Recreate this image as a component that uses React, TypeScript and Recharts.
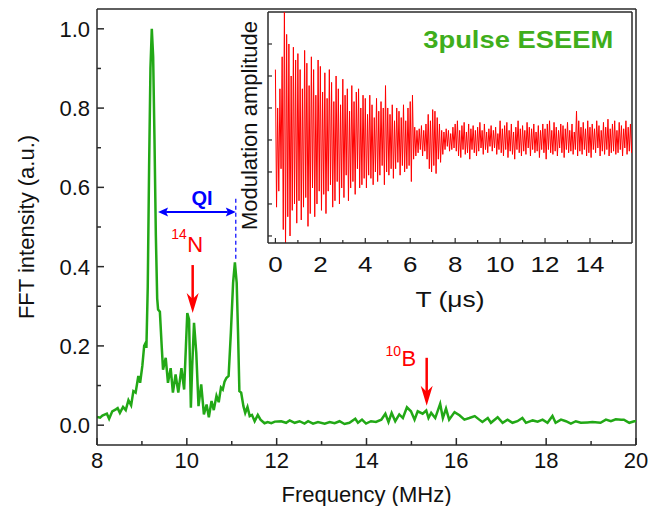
import React from 'react';
import { LineChart, Line, XAxis, YAxis, ReferenceLine } from 'recharts';

// ---------- main spectrum (FFT) ----------
const freqMHz = [
  8.0, 8.07, 8.12, 8.22, 8.27, 8.34, 8.42, 8.46, 8.51, 8.58,
  8.64, 8.7, 8.76, 8.81, 8.86, 8.92, 8.96, 9.01, 9.05, 9.08,
  9.1, 9.13, 9.16, 9.19, 9.22, 9.25, 9.28, 9.31, 9.34, 9.36,
  9.4, 9.44, 9.47, 9.53, 9.58, 9.64, 9.69, 9.75, 9.81, 9.88,
  9.94, 9.98, 10.01, 10.05, 10.07, 10.09, 10.12, 10.16, 10.21, 10.26,
  10.32, 10.38, 10.44, 10.49, 10.55, 10.6, 10.66, 10.71, 10.76, 10.8,
  10.84, 10.88, 10.93, 10.98, 11.03, 11.07, 11.11, 11.14, 11.17, 11.21,
  11.26, 11.3, 11.35, 11.4, 11.45, 11.51, 11.58, 11.64, 11.73, 11.8,
  11.88, 11.96, 12.1, 12.21, 12.29, 12.4, 12.51, 12.62, 12.7, 12.81,
  12.92, 13.07, 13.18, 13.29, 13.4, 13.51, 13.62, 13.75, 13.81, 13.9,
  13.99, 14.1, 14.21, 14.33, 14.42, 14.49, 14.56, 14.64, 14.73, 14.81,
  14.9, 14.99, 15.07, 15.14, 15.25, 15.33, 15.38, 15.44, 15.53, 15.64,
  15.7, 15.77, 15.84, 15.96, 16.07, 16.18, 16.29, 16.41, 16.51, 16.58,
  16.7, 16.77, 16.92, 17.03, 17.14, 17.25, 17.36, 17.47, 17.55, 17.7,
  17.81, 17.92, 18.03, 18.14, 18.21, 18.33, 18.44, 18.55, 18.66, 18.77,
  18.92, 19.03, 19.21, 19.33, 19.44, 19.55, 19.67, 19.73, 19.85, 19.96,
  20.0,
];
const fftIntensity = [
  0.021, 0.019, 0.024, 0.029, 0.016, 0.035, 0.04, 0.043, 0.031, 0.046,
  0.038, 0.063, 0.05, 0.086, 0.082, 0.124, 0.107, 0.15, 0.2, 0.207,
  0.195, 0.35, 0.65, 0.9, 1.0, 0.93, 0.72, 0.48, 0.32, 0.292,
  0.286, 0.2, 0.14, 0.17, 0.107, 0.144, 0.082, 0.128, 0.082, 0.144,
  0.09, 0.2, 0.283, 0.266, 0.15, 0.044, 0.15, 0.258, 0.183, 0.048,
  0.103, 0.027, 0.052, 0.02, 0.061, 0.038, 0.074, 0.058, 0.095, 0.09,
  0.11, 0.119, 0.124, 0.233, 0.359, 0.411, 0.359, 0.233, 0.086, 0.082,
  0.048, 0.031, 0.046, 0.023, 0.026, 0.01, 0.026, 0.014, 0.005, 0.008,
  0.005, 0.009, 0.01, 0.006, 0.012, 0.006, 0.01, 0.004, 0.01, 0.004,
  0.008, 0.004, 0.008, 0.005, 0.01, 0.003, 0.006, 0.016, 0.006, 0.014,
  0.004, 0.01, 0.008, 0.014, 0.029, 0.008, 0.031, 0.01, 0.027, 0.018,
  0.045, 0.035, 0.014, 0.035, 0.029, 0.037, 0.018, 0.031, 0.018, 0.054,
  0.018, 0.042, 0.014, 0.033, 0.025, 0.014, 0.018, 0.023, 0.014, 0.008,
  0.018, 0.006, 0.02, 0.006, 0.014, 0.006, 0.01, 0.018, 0.006, 0.012,
  0.009, 0.014, 0.006, 0.023, 0.006, 0.014, 0.01, 0.004, 0.01, 0.006,
  0.007, 0.008, 0.006, 0.014, 0.01, 0.015, 0.014, 0.014, 0.006, 0.01,
  0.01,
];
const freqTicks = [8, 9, 10, 11, 12, 13, 14, 15, 16, 17, 18, 19, 20];
const intensityTicks = [0, 0.1, 0.2, 0.3, 0.4, 0.5, 0.6, 0.7, 0.8, 0.9, 1.0];

// ---------- inset time trace (3-pulse ESEEM) ----------
const timeStepUs = 0.05;
const modulation = [
  2.2, -2.1, 1.0, -1.6, 1.6, -0.9, 2.6, -2.8, 4.3, -3.4, 3.3, -2.4, 3.0, -3.0, 2.0, -2.2, 2.9, -2.0, 2.5, -2.6,
  2.7, -1.9, 2.2, -2.5, 1.6, -2.1, 2.8, -1.8, 2.4, -2.7, 1.7, -2.3, 2.6, -1.5, 2.2, -2.4, 1.4, -2.0, 2.5, -1.6,
  2.3, -2.2, 1.5, -1.7, 2.1, -2.3, 1.3, -1.6, 2.2, -1.4, 1.8, -2.1, 1.2, -1.9, 2.0, -1.3, 1.6, -2.0, 1.1, -1.5,
  1.9, -1.8, 1.4, -1.1, 1.6, -1.9, 0.9, -1.5, 1.7, -1.3, 1.2, -1.7, 1.5, -0.9, 1.6, -1.5, 1.0, -1.4, 1.4, -1.2,
  1.3, -1.5, 0.8, -1.1, 1.4, -1.2, 1.1, -1.4, 0.7, -1.0, 1.3, -1.3, 0.9, -1.1, 1.2, -0.8, 1.0, -1.4, 1.7, -1.0,
  1.0, -1.1, 0.8, -0.9, 1.1, -1.2, 0.6, -0.9, 1.0, -0.7, 0.9, -1.1, 0.7, -0.8, 1.1, -1.0, 0.6, -0.9, 1.0, -0.8,
  1.2, -1.3, 1.4, -0.6, 0.4, -0.5, 0.3, -0.4, 0.35, -0.3, 0.45, -0.5, 0.3, -0.35, 0.5, -0.6, 0.8, -0.9, 0.6, -1.0,
  0.95, -0.8, 0.9, -1.05, 0.7, -0.6, 0.5, -0.7, 0.3, -0.45, 0.25, -0.3, 0.35, -0.2, 0.3, -0.35, 0.2, -0.3, 0.4, -0.25,
  0.5, -0.35, 0.6, -0.5, 0.3, -0.55, 0.45, -0.3, 0.55, -0.45, 0.25, -0.4, 0.5, -0.6, 0.35, -0.3, 0.45, -0.4, 0.3, -0.5,
  0.4, -0.35, 0.55, -0.25, 0.3, -0.45, 0.5, -0.3, 0.25, -0.4, 0.35, -0.2, 0.45, -0.35, 0.3, -0.25, 0.4, -0.45, 0.2, -0.3,
  0.6, -0.4, 0.35, -0.5, 0.45, -0.3, 0.55, -0.55, 0.3, -0.35, 0.5, -0.45, 0.25, -0.6, 0.4, -0.3, 0.6, -0.4, 0.35, -0.5,
  0.45, -0.35, 0.3, -0.45, 0.55, -0.25, 0.4, -0.5, 0.35, -0.3, 0.5, -0.4, 0.25, -0.35, 0.45, -0.55, 0.3, -0.3, 0.5, -0.4,
  0.35, -0.6, 0.5, -0.3, 0.6, -0.4, 0.3, -0.45, 0.55, -0.35, 0.4, -0.5, 0.3, -0.25, 0.5, -0.4, 0.45, -0.55, 0.35, -0.3,
  0.55, -0.4, 0.3, -0.35, 0.5, -0.45, 0.25, -0.3, 0.9, -0.5, 0.6, -0.35, 0.4, -0.45, 0.55, -0.3, 0.35, -0.5, 0.6, -0.4,
  0.4, -0.55, 0.5, -0.3, 0.35, -0.4, 0.6, -0.25, 0.45, -0.5, 0.3, -0.35, 0.55, -0.45, 0.4, -0.3, 0.65, -0.5, 0.35, -0.4,
  0.5, -0.35, 0.6, -0.45, 0.3, -0.4, 0.55, -0.3, 0.45, -0.5, 0.35, -0.25, 0.6, -0.45, 0.4, -0.35, 0.5, -0.4, 0.3, -0.45,
];
const timeTicks = [0, 1, 2, 3, 4, 5, 6, 7, 8, 9, 10, 11, 12, 13, 14, 15];
const ampTicks = [-3, -2, -1, 0, 1, 2, 3];

const mainData = freqMHz.map((f, i) => ({ f, v: fftIntensity[i] }));
const insetData = modulation.map((m, i) => ({ t: Math.round(i * timeStepUs * 100) / 100, m }));

const FONT = '"Liberation Sans", Arial, Helvetica, sans-serif';
const AXIS = '#2a2a2a';
const GREEN = '#22a816';
const TITLE_GREEN = '#3fae1c';
const RED = '#ff0000';
const BLUE = '#0000ff';

// ---------- ticks ----------
const MainXTick = (p: any) => {
  const { x, y, payload } = p;
  const v = payload.value as number;
  const major = v % 2 === 0;
  return (
    <g>
      <line x1={x} x2={x} y1={y} y2={y - (major ? 7 : 4)} stroke={AXIS} strokeWidth={1.5} />
      {major && (
        <text x={x} y={y + 23} textAnchor="middle" fontSize={22} fontFamily={FONT} fill="#111">
          {v}
        </text>
      )}
    </g>
  );
};

const MainYTick = (p: any) => {
  const { x, y, payload } = p;
  const v = payload.value as number;
  const major = Math.round(v * 10) % 2 === 0;
  return (
    <g>
      <line x1={x} x2={x + (major ? 7 : 4)} y1={y} y2={y} stroke={AXIS} strokeWidth={1.5} />
      {major && (
        <text x={x - 7} y={y + 8} textAnchor="end" fontSize={22} fontFamily={FONT} fill="#111">
          {v.toFixed(1)}
        </text>
      )}
    </g>
  );
};

const InsetXTick = (p: any) => {
  const { x, y, payload } = p;
  const v = payload.value as number;
  const major = v % 2 === 0;
  return (
    <g>
      <line x1={x} x2={x} y1={y} y2={y - (major ? 5 : 3)} stroke={AXIS} strokeWidth={1.2} />
      {major && (
        <text
          transform={`translate(${x},${y + 29}) scale(1.18,1)`}
          textAnchor="middle"
          fontSize={22}
          fontFamily={FONT}
          fill="#111"
        >
          {v}
        </text>
      )}
    </g>
  );
};

const InsetYTick = (p: any) => {
  const { x, y } = p;
  return <line x1={x} x2={x + 4} y1={y} y2={y} stroke={AXIS} strokeWidth={1.2} />;
};

// ---------- annotation helpers ----------
const downArrow = (x1: number, y1: number, x2: number, y2: number) => {
  const head = 20;
  const half = 6;
  const notch = 6;
  return (
    <g>
      <line x1={x1} y1={y1} x2={x2} y2={y2 - head + notch + 1} stroke={RED} strokeWidth={2.5} />
      <polygon
        points={`${x2},${y2} ${x2 - half},${y2 - head} ${x2},${y2 - head + notch} ${x2 + half},${y2 - head}`}
        fill={RED}
      />
    </g>
  );
};

const doubleArrow = (x1: number, y: number, x2: number) => {
  const head = 10;
  const half = 4.5;
  const notch = 2;
  return (
    <g>
      <line x1={x1 + head - notch} y1={y} x2={x2 - head + notch} y2={y} stroke={BLUE} strokeWidth={2} />
      <polygon
        points={`${x1},${y} ${x1 + head},${y - half} ${x1 + head - notch},${y} ${x1 + head},${y + half}`}
        fill={BLUE}
      />
      <polygon
        points={`${x2},${y} ${x2 - head},${y - half} ${x2 - head + notch},${y} ${x2 - head},${y + half}`}
        fill={BLUE}
      />
    </g>
  );
};

// annotation anchors (data coordinates of the main plot)
const qiArrow = { from: 9.36, to: 11.09, y: 0.538 };
const qiLabel = { x: 10.34, y: 0.556 };
const qiDash = { x: 11.09, top: 0.571, bottom: 0.418 };
const nArrow = { x: 10.13, top: 0.404, tip: 0.283 };
const nLabel = { x: 10.0, y: 0.437 };
const bArrow = { x: 15.34, top: 0.17, tip: 0.049 };
const bLabel = { x: 14.77, y: 0.149 };
// inset title anchor (inset data coordinates)
const insetTitle = { t: 6.58, a: 2.87 };

export default function App() {
  return (
    <div style={{ position: 'absolute', left: 0, top: 0, width: 664, height: 506, background: '#fff' }}>
      <div style={{ position: 'absolute', left: 0, top: 0 }}>
        <LineChart width={664} height={506} data={mainData} margin={{ top: 9, right: 28, left: 0, bottom: 0 }}>
          <XAxis
            dataKey="f"
            type="number"
            domain={[8, 20]}
            ticks={freqTicks}
            interval={0}
            allowDataOverflow
            height={61}
            tickSize={0}
            tickMargin={0}
            tickLine={false}
            axisLine={{ stroke: AXIS, strokeWidth: 1.5 }}
            tick={(p: any) => <MainXTick {...p} />}
            label={{
              content: (p: any) => {
                const vb = p.viewBox ?? { x: 97, y: 445, width: 539, height: 61 };
                return (
                  <text x={vb.x + vb.width / 2} y={vb.y + 57} textAnchor="middle" fontSize={22} fontFamily={FONT} fill="#111">
                    Frequency (MHz)
                  </text>
                );
              },
            }}
          />
          <YAxis
            type="number"
            domain={[-0.05, 1.05]}
            ticks={intensityTicks}
            interval={0}
            allowDataOverflow
            width={97}
            tickSize={0}
            tickMargin={0}
            tickLine={false}
            axisLine={{ stroke: AXIS, strokeWidth: 1.5 }}
            tick={(p: any) => <MainYTick {...p} />}
            label={{
              content: (p: any) => {
                const vb = p.viewBox ?? { x: 0, y: 9, width: 97, height: 436 };
                const cx = vb.x + 34;
                const cy = vb.y + vb.height / 2;
                return (
                  <text x={cx} y={cy} transform={`rotate(-90, ${cx}, ${cy})`} textAnchor="middle" fontSize={22} fontFamily={FONT} fill="#111">
                    FFT intensity (a.u.)
                  </text>
                );
              },
            }}
          />
          <ReferenceLine x={20} stroke={AXIS} strokeWidth={1.5} ifOverflow="visible" />
          <ReferenceLine y={1.05} stroke={AXIS} strokeWidth={1.5} ifOverflow="visible" />
          <Line dataKey="v" type="linear" stroke={GREEN} strokeWidth={2.5} dot={false} isAnimationActive={false} />

          {/* QI */}
          <ReferenceLine
            segment={[{ x: qiDash.x, y: qiDash.top }, { x: qiDash.x, y: qiDash.bottom }]}
            ifOverflow="visible"
            shape={(p: any) => <line x1={p.x1} y1={p.y1} x2={p.x2} y2={p.y2} stroke={BLUE} strokeWidth={1.2} strokeDasharray="4 3" />}
          />
          <ReferenceLine
            segment={[{ x: qiArrow.from, y: qiArrow.y }, { x: qiArrow.to, y: qiArrow.y }]}
            ifOverflow="visible"
            shape={(p: any) => doubleArrow(p.x1, p.y1, p.x2)}
          />
          <ReferenceLine
            segment={[{ x: qiLabel.x, y: qiLabel.y }, { x: qiLabel.x, y: qiLabel.y }]}
            ifOverflow="visible"
            shape={(p: any) => (
              <text x={p.x1} y={p.y1} textAnchor="middle" fontSize={20} fontWeight="bold" fontFamily={FONT} fill={BLUE}>
                QI
              </text>
            )}
          />
          {/* 14N */}
          <ReferenceLine
            segment={[{ x: nArrow.x, y: nArrow.top }, { x: nArrow.x, y: nArrow.tip }]}
            ifOverflow="visible"
            shape={(p: any) => downArrow(p.x1, p.y1, p.x2, p.y2)}
          />
          <ReferenceLine
            segment={[{ x: nLabel.x, y: nLabel.y }, { x: nLabel.x, y: nLabel.y }]}
            ifOverflow="visible"
            shape={(p: any) => (
              <g fontFamily={FONT} fill={RED}>
                <text x={p.x1} y={p.y1 - 13} textAnchor="end" fontSize={14}>14</text>
                <text x={p.x1 + 0.5} y={p.y1} textAnchor="start" fontSize={22}>N</text>
              </g>
            )}
          />
          {/* 10B */}
          <ReferenceLine
            segment={[{ x: bArrow.x, y: bArrow.top }, { x: bArrow.x, y: bArrow.tip }]}
            ifOverflow="visible"
            shape={(p: any) => downArrow(p.x1, p.y1, p.x2, p.y2)}
          />
          <ReferenceLine
            segment={[{ x: bLabel.x, y: bLabel.y }, { x: bLabel.x, y: bLabel.y }]}
            ifOverflow="visible"
            shape={(p: any) => (
              <g fontFamily={FONT} fill={RED}>
                <text x={p.x1} y={p.y1 - 10} textAnchor="end" fontSize={14}>10</text>
                <text x={p.x1 + 0.5} y={p.y1} textAnchor="start" fontSize={22}>B</text>
              </g>
            )}
          />
        </LineChart>
      </div>

      <div style={{ position: 'absolute', left: 230, top: 0 }}>
        <LineChart width={420} height={320} data={insetData} margin={{ top: 12, right: 18, left: 0, bottom: 0 }}>
          <XAxis
            dataKey="t"
            type="number"
            domain={[-0.33, 15.87]}
            ticks={timeTicks}
            interval={0}
            allowDataOverflow
            height={77}
            tickSize={0}
            tickMargin={0}
            tickLine={false}
            axisLine={{ stroke: AXIS, strokeWidth: 1.5 }}
            tick={(p: any) => <InsetXTick {...p} />}
            label={{
              content: (p: any) => {
                const vb = p.viewBox ?? { x: 38, y: 243, width: 364, height: 77 };
                const cx = vb.x + vb.width / 2;
                const cy = vb.y + 64;
                return (
                  <text transform={`translate(${cx},${cy}) scale(1.2,1)`} textAnchor="middle" fontSize={22} fontFamily={FONT} fill="#111">
                    T (μs)
                  </text>
                );
              },
            }}
          />
          <YAxis
            type="number"
            domain={[-3.22, 4]}
            ticks={ampTicks}
            interval={0}
            allowDataOverflow
            width={38}
            tickSize={0}
            tickMargin={0}
            tickLine={false}
            axisLine={{ stroke: AXIS, strokeWidth: 1.5 }}
            tick={(p: any) => <InsetYTick {...p} />}
            label={{
              content: (p: any) => {
                const vb = p.viewBox ?? { x: 0, y: 12, width: 38, height: 231 };
                const cx = vb.x + 27;
                const cy = vb.y + vb.height / 2 - 2;
                return (
                  <text x={cx} y={cy} transform={`rotate(-90, ${cx}, ${cy})`} textAnchor="middle" fontSize={22} fontFamily={FONT} fill="#111">
                    Modulation amplitude
                  </text>
                );
              },
            }}
          />
          <ReferenceLine x={15.87} stroke={AXIS} strokeWidth={1.5} ifOverflow="visible" />
          <ReferenceLine y={4} stroke={AXIS} strokeWidth={1.5} ifOverflow="visible" />
          <Line dataKey="m" type="linear" stroke={RED} strokeWidth={1} dot={false} isAnimationActive={false} />
          <ReferenceLine
            segment={[{ x: insetTitle.t, y: insetTitle.a }, { x: insetTitle.t, y: insetTitle.a }]}
            ifOverflow="visible"
            shape={(p: any) => (
              <text x={p.x1} y={p.y1} textLength={190} lengthAdjust="spacingAndGlyphs" fontSize={23} fontWeight="bold" fontFamily={FONT} fill={TITLE_GREEN}>
                3pulse ESEEM
              </text>
            )}
          />
        </LineChart>
      </div>
    </div>
  );
}
